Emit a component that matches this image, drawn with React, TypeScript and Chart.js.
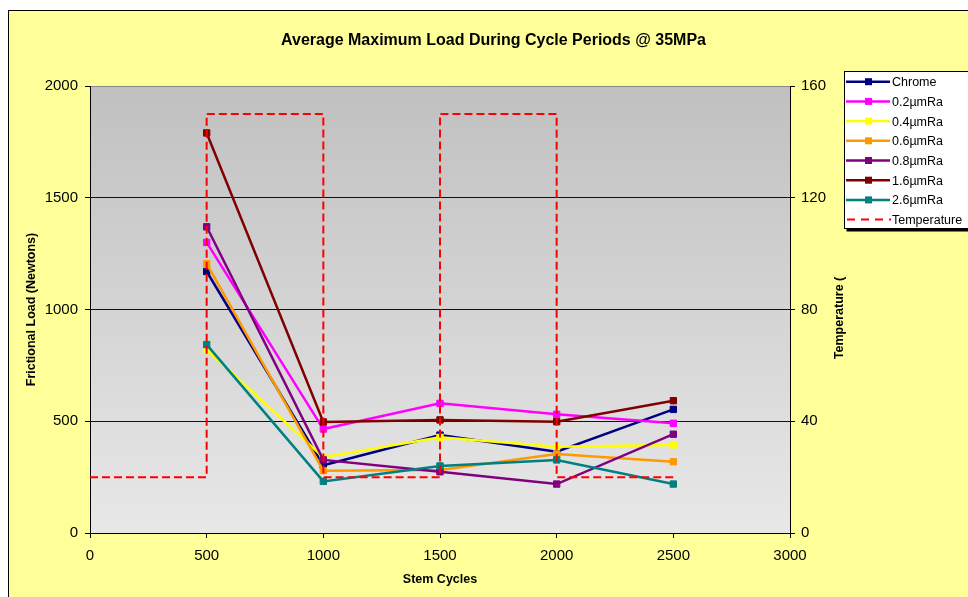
import React, { useEffect, useRef } from "react";
import { Chart, registerables } from "chart.js";

Chart.register(...registerables);

const cycles = [500, 1000, 1500, 2000, 2500];
const chrome = [1170, 303, 438, 364, 553];
const ra02 = [1300, 465, 580, 531, 491];
const ra04 = [820, 339, 428, 386, 394];
const ra06 = [1205, 279, 282, 353, 319];
const ra08 = [1370, 327, 274, 219, 442];
const ra16 = [1790, 497, 506, 498, 592];
const ra26 = [843, 231, 300, 327, 219];
const tempCycles = [0, 500, 500, 1000, 1000, 1500, 1500, 2000, 2000, 2500];
const tempValues = [20, 20, 150, 150, 20, 20, 150, 150, 20, 20];

const seriesNames = ["Chrome", "0.2µmRa", "0.4µmRa", "0.6µmRa", "0.8µmRa", "1.6µmRa", "2.6µmRa"];
const seriesData = [chrome, ra02, ra04, ra06, ra08, ra16, ra26];
const seriesColors = ["#000080", "#FF00FF", "#FFFF00", "#FF9900", "#800080", "#800000", "#008080"];
const tempName = "Temperature";
const tempColor = "#FF0000";

const chartTitle = "Average Maximum Load During Cycle Periods @ 35MPa";
const leftTitle = "Frictional Load (Newtons)";
const rightTitle = "Temperature (";
const bottomTitle = "Stem Cycles";

const FONT = "'Liberation Sans', Arial, sans-serif";
const plain = (v: any) => String(v);

const decorPlugin = {
  id: "decor",
  beforeDraw(chart: any) {
    const { ctx, chartArea: a } = chart;
    const g = ctx.createLinearGradient(0, a.top, 0, a.bottom);
    g.addColorStop(0, "#C0C0C0");
    g.addColorStop(1, "#E8E8E8");
    ctx.save();
    ctx.fillStyle = g;
    ctx.fillRect(a.left, a.top, a.right - a.left, a.bottom - a.top);
    ctx.restore();
  },
  afterDraw(chart: any) {
    const { ctx, chartArea: a } = chart;
    ctx.save();
    ctx.fillStyle = "#000";
    ctx.textAlign = "center";
    ctx.textBaseline = "middle";
    ctx.font = `bold 16px ${FONT}`;
    ctx.fillText(chartTitle, 484.5, 30);
    ctx.font = `bold 12.5px ${FONT}`;
    ctx.fillText(bottomTitle, (a.left + a.right) / 2, 569);
    ctx.save();
    ctx.translate(23, (a.top + a.bottom) / 2);
    ctx.rotate(-Math.PI / 2);
    ctx.fillText(leftTitle, 0, 0);
    ctx.restore();
    ctx.save();
    ctx.translate(831, 307);
    ctx.rotate(-Math.PI / 2);
    ctx.fillText(rightTitle, 0, 0);
    ctx.restore();

    // legend
    const lx = 835.5, ly = 60.5, lw = 140, lh = 157;
    ctx.fillStyle = "#000";
    ctx.fillRect(lx + 2, ly + 2, lw, lh + 1);
    ctx.fillStyle = "#FFFFFF";
    ctx.fillRect(lx, ly, lw, lh);
    ctx.strokeStyle = "#000";
    ctx.lineWidth = 1;
    ctx.strokeRect(lx, ly, lw, lh);
    ctx.font = `12.5px ${FONT}`;
    ctx.textAlign = "left";
    const names = [...seriesNames, tempName];
    const colors = [...seriesColors, tempColor];
    names.forEach((n, i) => {
      const y = 70.7 + i * 19.7;
      ctx.strokeStyle = colors[i];
      if (i < seriesNames.length) {
        ctx.lineWidth = 2.5;
        ctx.setLineDash([]);
        ctx.beginPath();
        ctx.moveTo(837, y);
        ctx.lineTo(881, y);
        ctx.stroke();
        ctx.fillStyle = colors[i];
        ctx.fillRect(856, y - 3.5, 7, 7);
      } else {
        ctx.lineWidth = 2;
        ctx.setLineDash([8, 6]);
        ctx.beginPath();
        ctx.moveTo(838, y);
        ctx.lineTo(882, y);
        ctx.stroke();
        ctx.setLineDash([]);
      }
      ctx.fillStyle = "#000";
      ctx.fillText(n, 883, y + 1);
    });
    ctx.restore();
  },
};

export default function App() {
  const ref = useRef<HTMLCanvasElement>(null);
  useEffect(() => {
    document.body.style.overflow = "hidden";
    const datasets: any[] = seriesNames.map((name, i) => ({
      label: name,
      data: cycles.map((c, j) => ({ x: c, y: seriesData[i][j] })),
      borderColor: seriesColors[i],
      backgroundColor: seriesColors[i],
      pointBackgroundColor: seriesColors[i],
      pointBorderColor: seriesColors[i],
      pointStyle: "rect",
      pointRadius: 4.5,
      pointBorderWidth: 1,
      borderWidth: 2.5,
      yAxisID: "y",
      order: seriesNames.length - i,
      tension: 0,
    }));
    datasets.push({
      label: tempName,
      data: tempCycles.map((c, j) => ({ x: c, y: tempValues[j] })),
      borderColor: tempColor,
      backgroundColor: tempColor,
      borderDash: [8, 4],
      borderWidth: 2,
      pointRadius: 0,
      yAxisID: "y1",
      order: 0,
      tension: 0,
    });
    const chart = new Chart(ref.current!, {
      type: "line",
      data: { datasets },
      options: {
        animation: false,
        responsive: false,
        maintainAspectRatio: false,
        layout: { padding: { top: 75, left: 0, right: 0, bottom: 0 } },
        plugins: { legend: { display: false }, tooltip: { enabled: false }, title: { display: false } },
        scales: {
          x: {
            type: "linear",
            min: 0,
            max: 3000,
            ticks: { stepSize: 500, color: "#000", padding: 9, font: { family: FONT, size: 15 }, callback: plain },
            grid: { drawOnChartArea: false, drawTicks: true, tickLength: 5, tickColor: "#000" },
            border: { color: "#000", width: 1 },
            afterFit: (s: any) => { s.height = 64; },
          },
          y: {
            position: "left",
            min: 0,
            max: 2000,
            ticks: { stepSize: 500, color: "#000", padding: 7, font: { family: FONT, size: 15 }, callback: plain },
            grid: {
              color: (c: any) => (c.tick && c.tick.value === 2000 ? "#888888" : c.tick && c.tick.value === 0 ? "rgba(0,0,0,0)" : "#111111"),
              lineWidth: 1,
              tickLength: 5,
              tickColor: "#000",
            },
            border: { color: "#000", width: 1 },
            afterFit: (s: any) => { s.width = 81; },
          },
          y1: {
            position: "right",
            min: 0,
            max: 160,
            ticks: { stepSize: 40, color: "#000", padding: 6, font: { family: FONT, size: 15 }, callback: plain },
            grid: { drawOnChartArea: false, tickLength: 5, tickColor: "#000" },
            border: { color: "#000", width: 1 },
            afterFit: (s: any) => { s.width = 178; },
          },
        },
      },
      plugins: [decorPlugin],
    });
    return () => chart.destroy();
  }, []);
  return (
    <div
      style={{
        position: "absolute",
        left: 8,
        top: 10,
        width: 960,
        height: 587,
        boxSizing: "border-box",
        borderLeft: "1px solid #000",
        borderTop: "1px solid #000",
        background: "#FFFF99",
        overflow: "hidden",
      }}
    >
      <canvas ref={ref} width={959} height={586} style={{ display: "block", width: 959, height: 586 }} />
    </div>
  );
}
